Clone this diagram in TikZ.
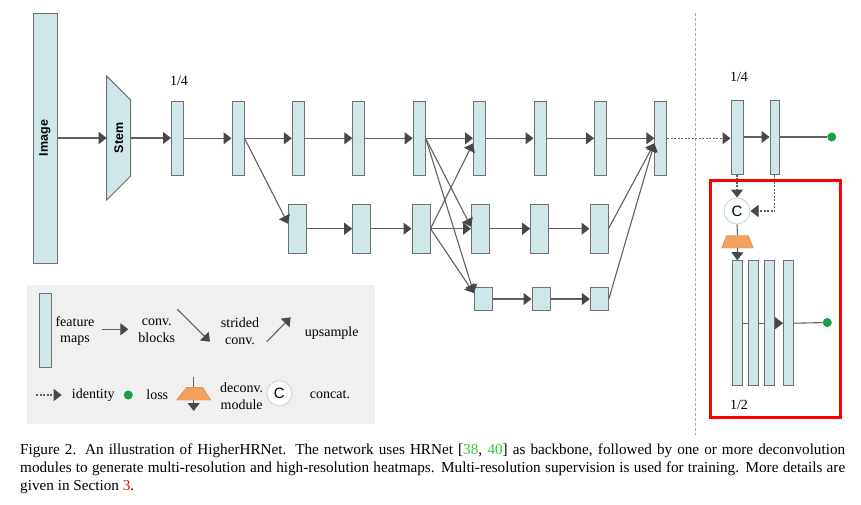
\documentclass[tikz,border=0pt]{standalone}
\usepackage{fontspec}
\setmainfont{Liberation Serif}
\setsansfont{Liberation Sans}
\usetikzlibrary{arrows.meta,calc}
\definecolor{fmfill}{HTML}{D0E7EA}
\definecolor{fmdraw}{HTML}{707070}
\definecolor{arr}{HTML}{606060}
\definecolor{arrh}{HTML}{484848}
\definecolor{lossg}{HTML}{1A9E4A}
\definecolor{deconv}{HTML}{F5A15B}
\definecolor{legbg}{HTML}{F0F0F0}
\definecolor{ccirc}{HTML}{C5DEE1}
\definecolor{sepl}{HTML}{A8A8A8}
\definecolor{refg}{HTML}{33CC33}
\tikzset{
  fmap/.style={draw=fmdraw, fill=fmfill, line width=1pt, inner sep=0pt, minimum width=12pt, minimum height=74pt},
  midb/.style={fmap, minimum width=18pt, minimum height=49pt},
  lowb/.style={fmap, minimum width=18pt, minimum height=23pt},
  decb/.style={fmap, minimum width=10pt, minimum height=125pt},
  conn/.style={draw=arr, line width=1.1pt, -{Triangle[length=8pt,width=12pt,color=arrh,fill=arrh]}},
  ident/.style={conn, dash pattern=on 2pt off 1.5pt},
  plain/.style={draw=arr, line width=1.1pt},
  lossdot/.style={circle, fill=lossg, inner sep=0pt, minimum size=9pt},
  catc/.style={circle, draw=ccirc, fill=white, line width=1pt, minimum size=26pt, inner sep=0pt, font=\sffamily\fontsize{15}{15}\selectfont},
  lbl/.style={font=\fontsize{14}{16.7}\selectfont, align=center, inner sep=0pt},
  vtxt/.style={rotate=90, font=\sffamily\bfseries\fontsize{12.5}{12.5}\selectfont, inner sep=0pt},
  trap/.style={draw=fmdraw, fill=fmfill, line width=1pt},
  dtrap/.style={fill=deconv, draw=deconv!80!black, line width=0.4pt},
  captxt/.style={anchor=base west, inner sep=0pt, font=\fontsize{15.2}{18}\selectfont}
}
\begin{document}
\begin{tikzpicture}[x=1pt,y=-1pt]
\useasboundingbox (0,0) rectangle (861,504);

% separator
\coordinate (sepT) at (695,13);
\coordinate (sepB) at (695,435);
\draw[sepl, line width=1pt, dash pattern=on 3pt off 2pt] (sepT) -- (sepB);

% legend background
\fill[legbg] (27,285) rectangle (375,424);

% image and stem
\node[fmap, minimum width=24pt, minimum height=250pt] (img) at (45,138) {};
\node[vtxt] (imgtxt) at (img) {Image};
\draw[trap] (106.7,76) -- (130.7,100) -- (130.7,176) -- (106.7,200) -- cycle;
\coordinate (stemW) at (106.7,138);
\coordinate (stemE) at (130.7,138);
\node[vtxt] (stemtxt) at (118.7,138) {Stem};

% top row
\foreach \n/\x in {1/177.5,2/238,3/298.3,4/358.8,5/419.2,6/479.5,7/540,8/600.5,9/660.8}
  \node[fmap] (T\n) at (\x,138.3) {};
% middle row
\foreach \n/\x in {1/297.5,2/361.7,3/421,4/480.5,5/539.7,6/599}
  \node[midb] (M\n) at (\x,228.7) {};
% bottom row
\foreach \n/\x in {1/483.3,2/541,3/599.3}
  \node[lowb] (B\n) at (\x,299) {};

\node[lbl] (q1) at (179,81) {1/4};

\draw[conn] (img.east |- stemW) -- (stemW);
\draw[conn] (stemE) -- (stemE -| T1.west);
\foreach \a/\b in {1/2,2/3,3/4,4/5,5/6,6/7,7/8,8/9}
  \draw[conn] (T\a.east) -- (T\b.west);
\foreach \a/\b in {1/2,2/3,4/5,5/6}
  \draw[conn] (M\a.east) -- (M\b.west);
\foreach \a/\b in {1/2,2/3}
  \draw[conn] (B\a.east) -- (B\b.west);

\draw[conn] (T2.east) -- ([yshift=5pt]M1.west);
\draw[conn] (T5.east) -- ([yshift=2pt]M4.west);
\draw[conn] (T5.east) -- ([yshift=6pt]B1.west);
\draw[conn] (M3.east) -- ([yshift=-5pt]T6.west);
\draw[conn] (M3.east) -- (M4.west);
\draw[conn] (M3.east) -- ([yshift=6pt]B1.west);
\draw[conn] (M6.east) -- ([yshift=-5pt]T9.west);
\draw[conn] (B3.east) -- ([yshift=-5pt]T9.west);

% right part
\node[fmap] (R1) at (737,137) {};
\node[fmap, minimum width=9pt] (R2) at (774.5,137) {};
\node[lossdot] (dot1) at (831.7,137) {};
\node[lbl] (q2) at (739,77.3) {1/4};
\draw[ident] (T9.east) -- (T9.east -| R1.west);
\draw[conn] (R1.east) -- (R2.west);
\draw[plain] (R2.east) -- (dot1);

\node[catc] (cc) at (737,211) {C};
\draw[ident] (R1.south) -- (cc.north);
\draw[ident] (R2.south) |- (cc.east);
\coordinate (dtop) at (737.5,235.5);
\coordinate (dbot) at (737.5,248);
\draw[plain] (cc.south) -- (dtop);
\draw[dtrap] (726.7,235.5) -- (748.3,235.5) -- (753.3,248) -- (721.7,248) -- cycle;

\foreach \n/\x in {1/737.3,2/753.7,3/769.7,4/788.5}
  \node[decb] (D\n) at (\x,323.2) {};
\draw[conn] (dbot) -- (D1.north);
\draw[plain] (D1.east) -- (D2.west);
\draw[plain] (D2.east) -- (D3.west);
\draw[conn] (D3.east) -- (D4.west);
\node[lossdot] (dot2) at (827.3,322.5) {};
\draw[plain] (D4.east) -- (dot2);
\node[lbl] (h2) at (739,405) {1/2};
\draw[red, line width=3pt] (710,180) rectangle (840,417.3);

% legend
\node[fmap] (lfm) at (45.3,330.3) {};
\node[lbl] (lt1) at (75,331) {feature\\maps};
\coordinate (la1) at (102.3,329.3);
\coordinate (la2) at (128.3,329.3);
\draw[conn] (la1) -- (la2);
\node[lbl] (lt2) at (156.7,331) {conv.\\blocks};
\coordinate (ls1) at (177.3,309.3);
\coordinate (ls2) at (210,341.7);
\draw[conn] (ls1) -- (ls2);
\node[lbl] (lt3) at (240,331) {strided\\conv.};
\coordinate (lu1) at (266.7,341.7);
\coordinate (lu2) at (290.7,317.3);
\draw[conn] (lu1) -- (lu2);
\node[lbl] (lt4) at (331.7,333) {upsample};

\coordinate (li1) at (36,395);
\coordinate (li2) at (61.7,395);
\draw[ident] (li1) -- (li2);
\node[lbl] (lt5) at (93.3,395) {identity};
\node[lossdot] (ldot) at (128.3,395) {};
\node[lbl] (lt6) at (157.3,395) {loss};
\coordinate (ld0) at (193.7,376.7);
\coordinate (ld1) at (193.7,387.3);
\coordinate (ld2) at (193.7,400);
\coordinate (ld3) at (193.7,411);
\draw[plain] (ld0) -- (ld1);
\draw[dtrap] (186.7,387.3) -- (202.7,387.3) -- (210.7,400) -- (176.7,400) -- cycle;
\draw[conn] (ld2) -- (ld3);
\node[lbl] (lt7) at (241.7,396) {deconv.\\module};
\node[catc, minimum size=25pt] (lcc) at (279.3,393.3) {C};
\node[lbl] (lt8) at (330,395) {concat.};

% caption
\node[captxt] (cap1) at (20,454.3) {\makebox[825pt][s]{Figure 2. An illustration of HigherHRNet.  The network uses HRNet [\textcolor{refg}{38}, \textcolor{refg}{40}] as backbone, followed by one or more deconvolution}};
\node[captxt] (cap2) at (20,472.5) {\makebox[825pt][s]{modules to generate multi-resolution and high-resolution heatmaps.  Multi-resolution supervision is used for training.  More details are}};
\node[captxt] (cap3) at (20,490.7) {given in Section \textcolor{red}{3}.};
\end{tikzpicture}
\end{document}
